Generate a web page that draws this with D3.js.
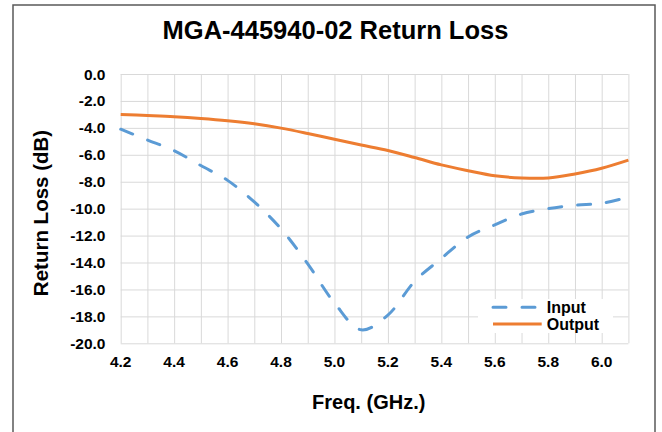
<!DOCTYPE html>
<html>
<head>
<meta charset="utf-8">
<script src="https://cdn.jsdelivr.net/npm/d3@7"></script>
<style>
  body { margin: 0; background: #fff; }
  svg text { font-family: "Liberation Sans", Arial, sans-serif; font-weight: bold; fill: #000; }
  .grid line { stroke: #d9d9d9; stroke-width: 1; }
  .grid path { display: none; }
</style>
</head>
<body>
<svg id="chart" width="662" height="432"></svg>
<script>
// Frequency points (GHz)
const freq = [4.2, 4.3, 4.4, 4.5, 4.6, 4.7, 4.8, 4.9, 5.0, 5.1, 5.2, 5.3, 5.4, 5.5, 5.6, 5.7, 5.8, 5.9, 6.0, 6.1];
// Return loss (dB)
const inputRL = [-4.1, -4.9, -5.7, -6.8, -7.9, -9.5, -11.5, -14.1, -17.0, -19.0, -17.9, -15.4, -13.7, -12.1, -11.2, -10.4, -10.0, -9.75, -9.6, -9.15];
const outputRL = [-3.0, -3.08, -3.17, -3.3, -3.47, -3.7, -4.02, -4.42, -4.85, -5.27, -5.68, -6.2, -6.75, -7.18, -7.56, -7.72, -7.72, -7.42, -7.0, -6.4];
const xTicks = [4.2, 4.4, 4.6, 4.8, 5.0, 5.2, 5.4, 5.6, 5.8, 6.0];
const xGrid = freq;
const yTicks = [0, -2, -4, -6, -8, -10, -12, -14, -16, -18, -20];

const svg = d3.select("#chart");
const plot = { left: 120.7, right: 628.4, top: 74, bottom: 343.3 };

// outer frame
svg.append("rect")
    .attr("x", 13).attr("y", 5)
    .attr("width", 642).attr("height", 440)
    .attr("fill", "#fff")
    .attr("stroke", "#595959")
    .attr("stroke-width", 1.5);

const x = d3.scaleLinear().domain([4.2, 6.1]).range([plot.left, plot.right]);
const y = d3.scaleLinear().domain([-20, 0]).range([plot.bottom, plot.top]);

// gridlines
svg.append("g").attr("class", "grid")
    .attr("transform", "translate(0," + plot.bottom + ")")
    .call(d3.axisBottom(x).tickValues(xGrid).tickSize(-(plot.bottom - plot.top)).tickFormat(""));
svg.append("g").attr("class", "grid")
    .attr("transform", "translate(" + plot.left + ",0)")
    .call(d3.axisLeft(y).tickValues(yTicks).tickSize(-(plot.right - plot.left)).tickFormat(""));

// tick labels
svg.append("g").selectAll("text")
    .data(xTicks).enter().append("text")
    .attr("x", d => x(d))
    .attr("y", plot.bottom + 24)
    .attr("text-anchor", "middle")
    .attr("font-size", "15.5px")
    .text(d => d.toFixed(1));

svg.append("g").selectAll("text")
    .data(yTicks).enter().append("text")
    .attr("x", 105.5)
    .attr("y", d => y(d) + 5.5)
    .attr("text-anchor", "end")
    .attr("font-size", "15.5px")
    .text(d => d.toFixed(1));

// series
const line = d3.line()
    .x((d, i) => x(freq[i]))
    .y(d => y(d))
    .curve(d3.curveCatmullRom.alpha(0.5));

svg.append("path")
    .datum(outputRL)
    .attr("fill", "none")
    .attr("stroke", "#ED7D31")
    .attr("stroke-width", 3)
    .attr("d", line);

svg.append("path")
    .datum(inputRL)
    .attr("fill", "none")
    .attr("stroke", "#5B9BD5")
    .attr("stroke-width", 3)
    .attr("stroke-linecap", "round")
    .attr("stroke-dasharray", "13,16")
    .attr("d", line);

// title and axis titles
svg.append("text")
    .attr("x", 335.5).attr("y", 39.3)
    .attr("text-anchor", "middle")
    .attr("font-size", "25.5px")
    .text("MGA-445940-02 Return Loss");

svg.append("text")
    .attr("x", 368.7).attr("y", 409.3)
    .attr("text-anchor", "middle")
    .attr("font-size", "20px")
    .text("Freq. (GHz.)");

svg.append("text")
    .attr("transform", "translate(48,213) rotate(-90)")
    .attr("text-anchor", "middle")
    .attr("font-size", "20.5px")
    .text("Return Loss (dB)");

// legend
const legend = svg.append("g");
legend.append("rect")
    .attr("x", 478).attr("y", 299)
    .attr("width", 135).attr("height", 34)
    .attr("fill", "#fff");

const legendItems = [
    { name: "Input", color: "#5B9BD5", dash: "13,16", y: 307.3 },
    { name: "Output", color: "#ED7D31", dash: null, y: 324 }
];
legendItems.forEach(item => {
    legend.append("line")
        .attr("x1", 493).attr("x2", item.dash ? 537 : 541.7)
        .attr("y1", item.y).attr("y2", item.y)
        .attr("stroke", item.color)
        .attr("stroke-width", 3)
        .attr("stroke-linecap", item.dash ? "round" : "butt")
        .attr("stroke-dasharray", item.dash);
    legend.append("text")
        .attr("x", 546.7).attr("y", item.y + 5.5)
        .attr("font-size", "16px")
        .text(item.name);
});
</script>
</body>
</html>
